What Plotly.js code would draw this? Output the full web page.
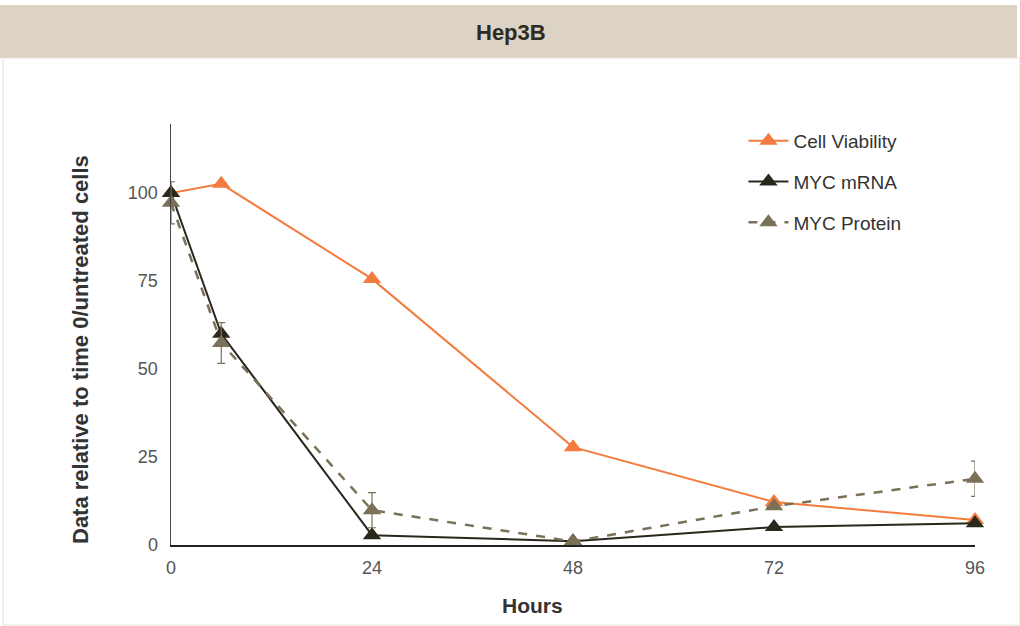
<!DOCTYPE html>
<html><head><meta charset="utf-8">
<script src="https://cdn.plot.ly/plotly-3.0.1.min.js"></script>
<style>html,body{margin:0;padding:0;background:#fff}#c{width:1020px;height:626px}</style>
</head><body><div id="c"></div>
<script>
const hours = [0, 6, 24, 48, 72, 96];
const cellViability = [100, 102.6, 75.6, 27.8, 12.2, 7.1];
const mycMRNA = [100, 60, 2.8, 1.1, 5.1, 6.2];
const mycProtein = [97.2, 57.4, 9.9, 1, 11, 18.8];
const mycProteinErr = [6, 5.8, 5, 0.5, 0.8, 5];
const xTicks = [0, 24, 48, 72, 96];
const yTicks = [0, 25, 50, 75, 100];

const mk = {symbol: 'triangle-up', size: 16};
const traces = [
  {x: hours, y: cellViability, name: 'Cell Viability', mode: 'lines+markers', legendgroup: 'a',
   line: {color: '#f47b3e', width: 2}, marker: Object.assign({color: '#f47b3e'}, mk), cliponaxis: false},
  {x: hours, y: mycMRNA, name: 'MYC mRNA', mode: 'lines+markers', legendgroup: 'b',
   line: {color: '#2a281c', width: 2}, marker: Object.assign({color: '#2a281c'}, mk), cliponaxis: false},
  {x: hours, y: mycProtein, name: 'MYC Protein', mode: 'lines+markers', legendgroup: 'c',
   line: {color: '#7b7058', width: 2.5, dash: 'dash'}, marker: Object.assign({color: '#7b7058'}, mk), cliponaxis: false,
   error_y: {type: 'data', array: mycProteinErr, visible: true, color: '#7b7058', thickness: 1.2, width: 4}}
];

const layout = {
  width: 1020, height: 626,
  margin: {l: 171, r: 45, t: 124, b: 81},
  paper_bgcolor: '#ffffff', plot_bgcolor: '#ffffff',
  font: {family: 'Liberation Sans, Arial, sans-serif', color: '#444'},
  showlegend: true,
  legend: {x: 0.712, y: 1.005, xanchor: 'left', yanchor: 'top', traceorder: 'grouped', tracegroupgap: 13,
           font: {size: 19, color: '#333'}, bgcolor: 'rgba(0,0,0,0)', itemwidth: 40},
  xaxis: {range: [0, 96], tickvals: xTicks, ticktext: xTicks.map(String), showgrid: false, zeroline: false,
          showline: true, linecolor: '#222', linewidth: 1.5, ticks: 'outside', ticklen: 6, tickcolor: 'rgba(0,0,0,0)',
          tickfont: {size: 18, color: '#555', family: 'Liberation Sans Narrow, Liberation Sans, Arial'}},
  yaxis: {range: [0, 119.6], tickvals: yTicks, ticktext: yTicks.map(String), showgrid: false, zeroline: false,
          showline: true, linecolor: '#444', linewidth: 1.5, ticks: '', ticklabelstandoff: 8, tickfont: {size: 18, color: '#555'}},
  shapes: [
    {type: 'rect', xref: 'paper', yref: 'paper', x0: -171/804, x1: 1 + 42/804, y0: 1 + 66/421, y1: 1 + 119/421,
     fillcolor: '#ddd3c5', line: {width: 0}, layer: 'below'},
    {type: 'rect', xref: 'paper', yref: 'paper', x0: -168/804, x1: 1 + 45/804, y0: -80/421, y1: 1 + 66/421,
     fillcolor: 'rgba(0,0,0,0)', line: {width: 1, color: '#e6e1da'}, layer: 'below'}
  ],
  annotations: [
    {text: '<b>Hep3B</b>', xref: 'paper', yref: 'paper', x: (511 - 171) / 804, y: 1 + 91/421, xanchor: 'center', yanchor: 'middle',
     showarrow: false, font: {size: 22, color: '#2f2a22', family: 'Liberation Sans Narrow, Liberation Sans, Arial'}},
    {text: '<b>Hours</b>', xref: 'paper', yref: 'paper', x: (532 - 171) / 804, y: -(605 - 545) / 421, xanchor: 'center', yanchor: 'middle',
     showarrow: false, font: {size: 21, color: '#333', family: 'Liberation Sans Narrow, Liberation Sans, Arial'}},
    {text: '<b>Data relative to time 0/untreated cells</b>', xref: 'paper', yref: 'paper', x: -(171 - 80) / 804, y: (545 - 350) / 421,
     xanchor: 'center', yanchor: 'middle', textangle: -90, showarrow: false, font: {size: 22, color: '#333'}}
  ]
};
Plotly.newPlot('c', traces, layout, {displayModeBar: false, staticPlot: true});
</script></body></html>
